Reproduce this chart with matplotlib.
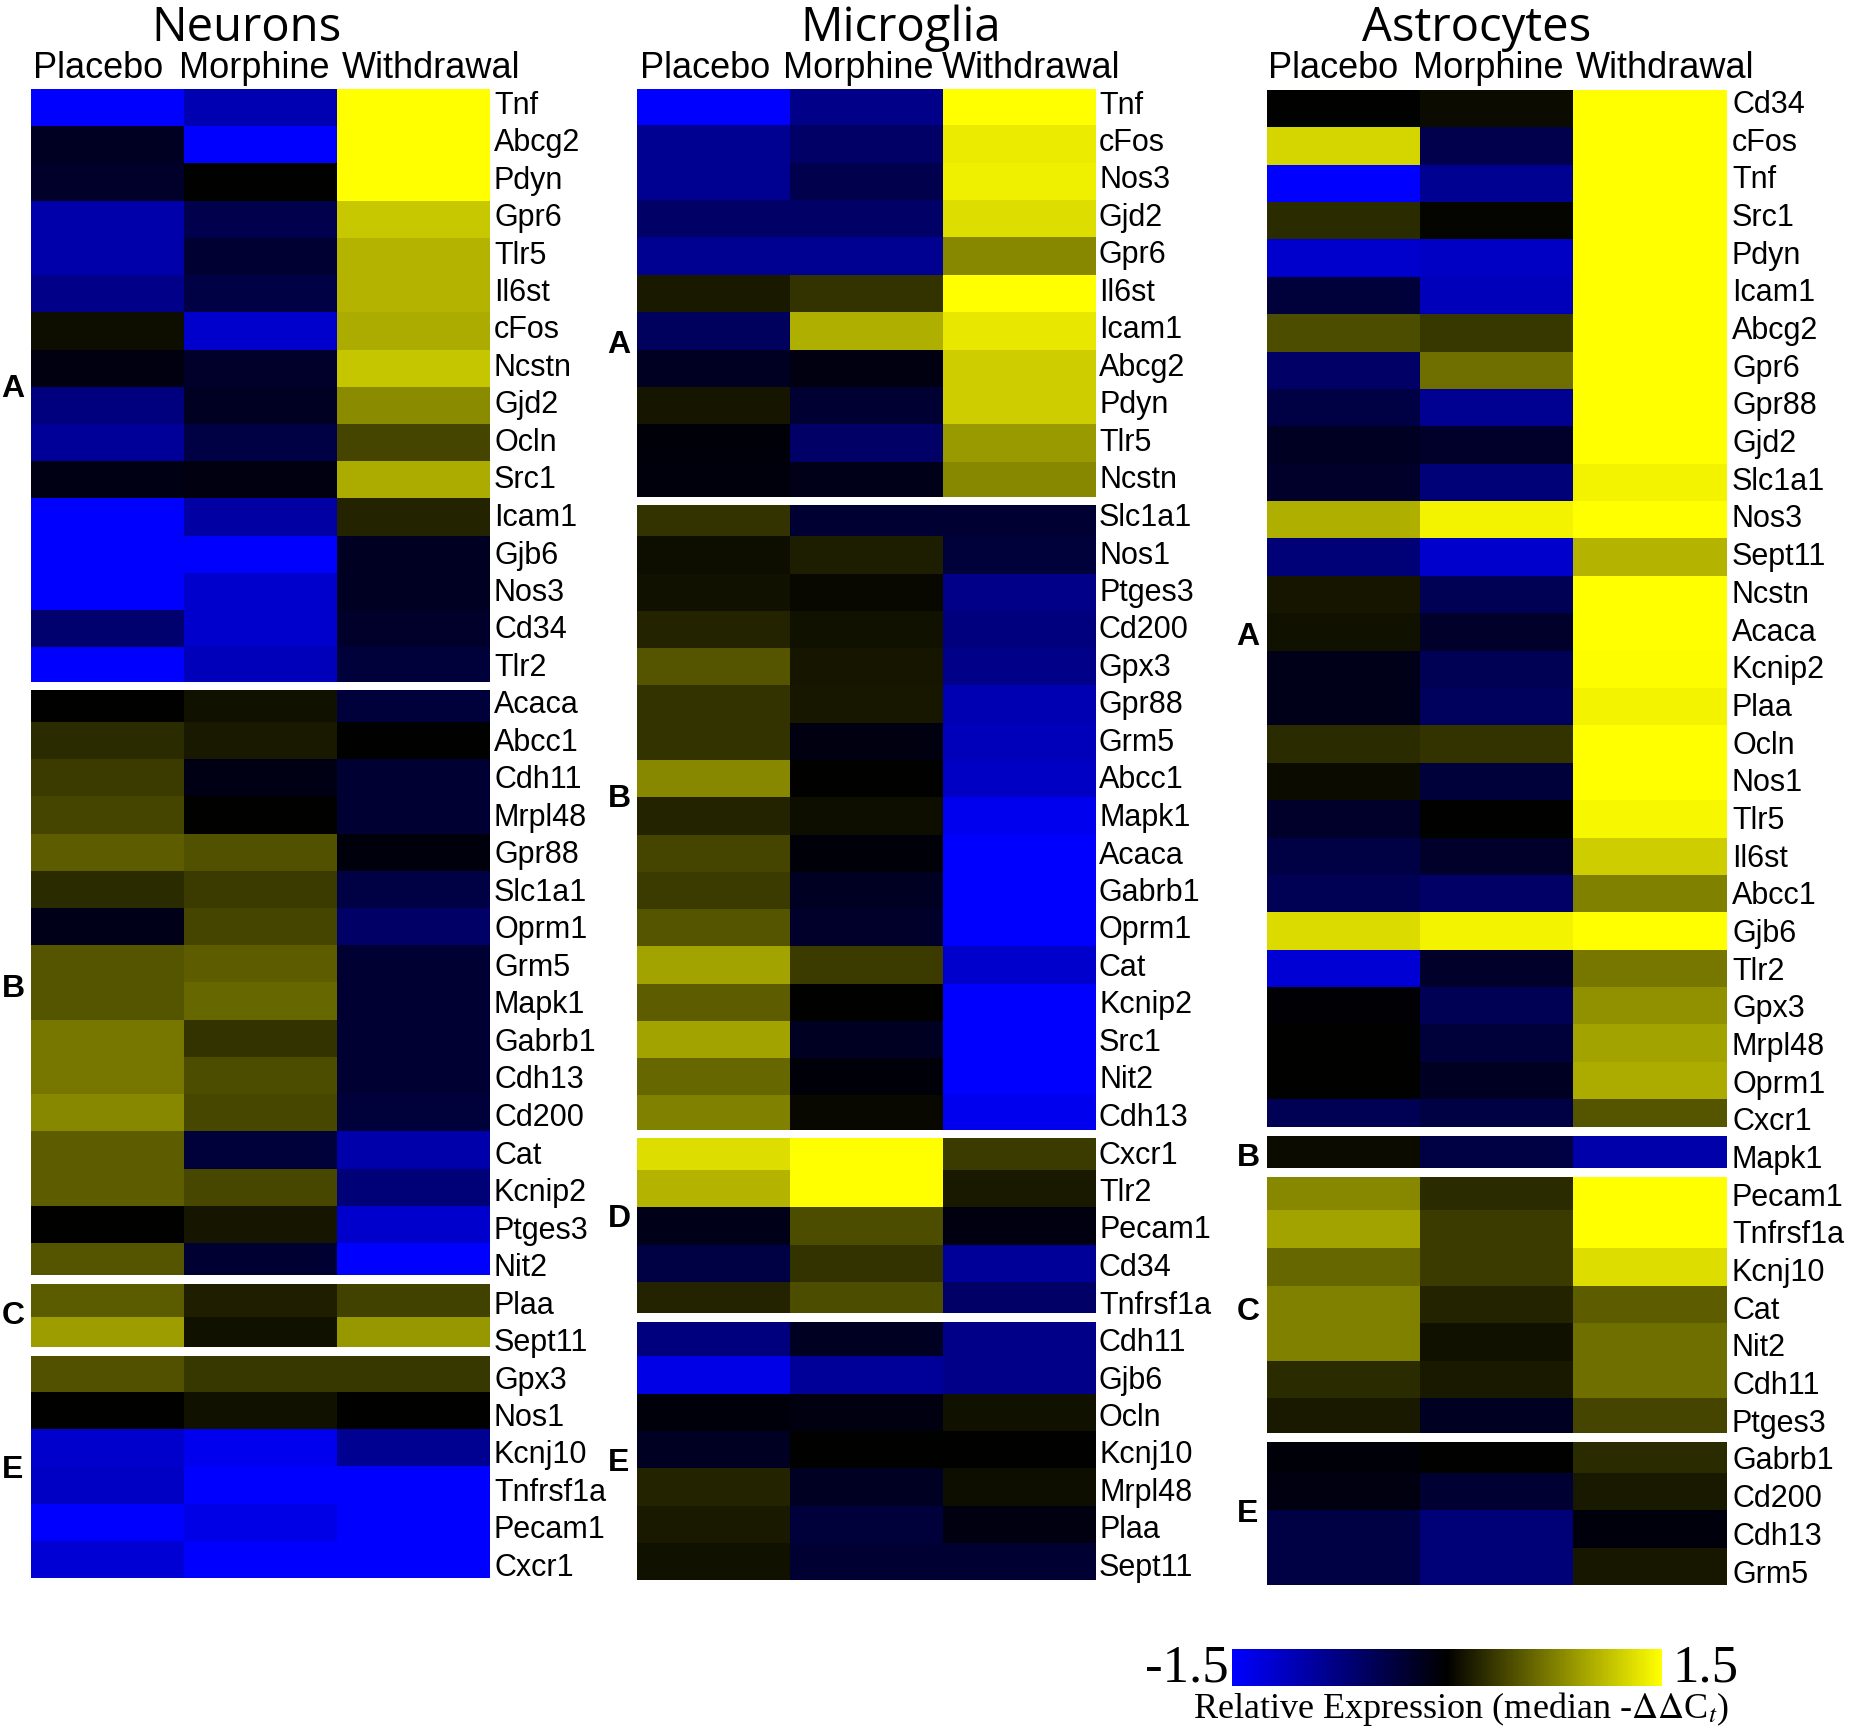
import matplotlib
matplotlib.use("Agg")
import matplotlib.pyplot as plt
from matplotlib.colors import LinearSegmentedColormap, Normalize
from matplotlib.cm import ScalarMappable

W, H = 1850, 1729
SANS = "Liberation Sans"
SERIF = "Liberation Serif"
plt.rcParams["mathtext.fontset"] = "stix"

conditions = ["Placebo", "Morphine", "Withdrawal"]

# values are median -ddCt, one row per gene: placebo, morphine, withdrawal
neurons_a_genes = ["Tnf", "Abcg2", "Pdyn", "Gpr6", "Tlr5", "Il6st", "cFos", "Ncstn", "Gjd2", "Ocln", "Src1",
                   "Icam1", "Gjb6", "Nos3", "Cd34", "Tlr2"]
neurons_a = [[-1.5, -1.05, 1.5], [-0.2, -1.5, 1.5], [-0.25, 0, 1.5], [-1.0, -0.45, 1.18], [-1.0, -0.3, 1.05],
             [-0.8, -0.4, 1.05], [0.08, -1.2, 1.0], [-0.1, -0.25, 1.15], [-0.75, -0.2, 0.82], [-0.9, -0.4, 0.4],
             [-0.12, -0.1, 1.0], [-1.5, -0.95, 0.2], [-1.5, -1.5, -0.2], [-1.5, -1.2, -0.2], [-0.65, -1.2, -0.25],
             [-1.5, -1.1, -0.35]]
neurons_b_genes = ["Acaca", "Abcc1", "Cdh11", "Mrpl48", "Gpr88", "Slc1a1", "Oprm1", "Grm5", "Mapk1", "Gabrb1",
                   "Cdh13", "Cd200", "Cat", "Kcnip2", "Ptges3", "Nit2"]
neurons_b = [[0.0, 0.1, -0.35], [0.25, 0.15, 0.0], [0.35, -0.12, -0.3], [0.4, 0.0, -0.3], [0.55, 0.48, -0.08],
             [0.25, 0.35, -0.4], [-0.15, 0.4, -0.6], [0.5, 0.55, -0.3], [0.5, 0.6, -0.3], [0.7, 0.3, -0.3],
             [0.7, 0.45, -0.3], [0.8, 0.42, -0.35], [0.55, -0.35, -1.0], [0.55, 0.42, -0.7], [0.0, 0.12, -1.2],
             [0.5, -0.3, -1.5]]
neurons_c_genes = ["Plaa", "Sept11"]
neurons_c = [[0.53, 0.18, 0.38], [0.92, 0.1, 0.88]]
neurons_e_genes = ["Gpx3", "Nos1", "Kcnj10", "Tnfrsf1a", "Pecam1", "Cxcr1"]
neurons_e = [[0.48, 0.32, 0.32], [0, 0.1, 0], [-1.2, -1.4, -0.85], [-1.15, -1.5, -1.5], [-1.5, -1.35, -1.5],
             [-1.25, -1.5, -1.5]]

microglia_a_genes = ["Tnf", "cFos", "Nos3", "Gjd2", "Gpr6", "Il6st", "Icam1", "Abcg2", "Pdyn", "Tlr5", "Ncstn"]
microglia_a = [[-1.5, -0.8, 1.5], [-0.85, -0.6, 1.38], [-0.85, -0.45, 1.4], [-0.6, -0.6, 1.3], [-0.85, -0.85, 0.8],
               [0.15, 0.3, 1.5], [-0.55, 1.02, 1.35], [-0.2, -0.1, 1.2], [0.12, -0.3, 1.2], [-0.05, -0.6, 0.9],
               [-0.08, -0.15, 0.8]]
microglia_b_genes = ["Slc1a1", "Nos1", "Ptges3", "Cd200", "Gpx3", "Gpr88", "Grm5", "Abcc1", "Mapk1", "Acaca",
                     "Gabrb1", "Oprm1", "Cat", "Kcnip2", "Src1", "Nit2", "Cdh13"]
microglia_b = [[0.3, -0.3, -0.3], [0.08, 0.17, -0.35], [0.1, 0.05, -0.8], [0.2, 0.1, -0.75], [0.5, 0.12, -0.8],
               [0.3, 0.13, -1.05], [0.3, -0.1, -1.1], [0.8, 0, -1.15], [0.2, 0.08, -1.4], [0.4, -0.05, -1.5],
               [0.35, -0.2, -1.5], [0.5, -0.25, -1.5], [0.95, 0.35, -1.2], [0.55, 0, -1.5], [0.95, -0.2, -1.5],
               [0.6, -0.05, -1.5], [0.75, 0.05, -1.4]]
microglia_d_genes = ["Cxcr1", "Tlr2", "Pecam1", "Cd34", "Tnfrsf1a"]
microglia_d = [[1.3, 1.5, 0.35], [1.05, 1.5, 0.15], [-0.15, 0.45, -0.1], [-0.4, 0.3, -0.9], [0.2, 0.45, -0.6]]
microglia_e_genes = ["Cdh11", "Gjb6", "Ocln", "Kcnj10", "Mrpl48", "Plaa", "Sept11"]
microglia_e = [[-0.75, -0.2, -0.8], [-1.35, -0.9, -0.8], [-0.07, -0.1, 0.1], [-0.2, 0, 0], [0.2, -0.2, 0.08],
               [0.15, -0.35, -0.1], [0.1, -0.3, -0.3]]

astro_a_genes = ["Cd34", "cFos", "Tnf", "Src1", "Pdyn", "Icam1", "Abcg2", "Gpr6", "Gpr88", "Gjd2", "Slc1a1", "Nos3",
                 "Sept11", "Ncstn", "Acaca", "Kcnip2", "Plaa", "Ocln", "Nos1", "Tlr5", "Il6st", "Abcc1", "Gjb6",
                 "Tlr2", "Gpx3", "Mrpl48", "Oprm1", "Cxcr1"]
astro_a = [[0, 0.07, 1.5], [1.25, -0.45, 1.5], [-1.5, -0.85, 1.5], [0.25, 0.03, 1.5], [-1.2, -1.15, 1.5],
           [-0.35, -1.1, 1.5], [0.45, 0.32, 1.5], [-0.6, 0.65, 1.5], [-0.4, -0.85, 1.5], [-0.2, -0.25, 1.5],
           [-0.25, -0.7, 1.42], [1.02, 1.42, 1.5], [-0.7, -1.2, 1.05], [0.12, -0.5, 1.5], [0.1, -0.25, 1.5],
           [-0.15, -0.5, 1.48], [-0.15, -0.55, 1.42], [0.25, 0.3, 1.5], [0.06, -0.35, 1.5], [-0.25, 0, 1.45],
           [-0.4, -0.25, 1.2], [-0.5, -0.6, 0.75], [1.28, 1.42, 1.5], [-1.25, -0.25, 0.7], [-0.03, -0.5, 0.85],
           [0, -0.35, 0.95], [0, -0.2, 1.0], [-0.5, -0.4, 0.5]]
astro_b_genes = ["Mapk1"]
astro_b = [[0.07, -0.4, -1.0]]
astro_c_genes = ["Pecam1", "Tnfrsf1a", "Kcnj10", "Cat", "Nit2", "Cdh11", "Ptges3"]
astro_c = [[0.8, 0.25, 1.5], [0.95, 0.35, 1.5], [0.6, 0.35, 1.3], [0.75, 0.2, 0.55], [0.75, 0.1, 0.65],
           [0.25, 0.15, 0.65], [0.15, -0.2, 0.4]]
astro_e_genes = ["Gabrb1", "Cd200", "Cdh13", "Grm5"]
astro_e = [[-0.05, 0, 0.25], [-0.1, -0.3, 0.15], [-0.4, -0.7, -0.08], [-0.4, -0.7, 0.13]]

bwy = LinearSegmentedColormap.from_list("bwy", ["#0000ff", "#000000", "#ffff00"])
norm = Normalize(-1.5, 1.5)

fig = plt.figure(figsize=(W / 100, H / 100), dpi=100, facecolor="white")


def px_axes(x0, y0, x1, y1):
    # pixel box of the reference, y going down
    ax = fig.add_axes([x0 / W, 1 - y1 / H, (x1 - x0) / W, (y1 - y0) / H])
    ax.set_axis_off()
    return ax


def px_text(x, y, s, **kw):
    kw.setdefault("family", SANS)
    kw.setdefault("va", "center")
    kw.setdefault("color", "black")
    return fig.text(x / W, 1 - y / H, s, **kw)


def draw_panel(title, title_x, x0, x1, head_x, letter_x, label_x, groups, grid, labels):
    grid_top, grid_step = grid
    label_top, label_step = labels
    px_text(title_x, 28, title, family="Open Sans", fontsize=34, ha="center")
    for name, hx in zip(conditions, head_x):
        px_text(hx, 69, name, fontsize=26)

    row = 0
    for letter, letter_y, y0, y1, genes, values in groups:
        ax = px_axes(x0, y0, x1, y1)
        ax.imshow(values, cmap=bwy, norm=norm, aspect="auto", interpolation="nearest")
        # rows sit on one even grid, the white gaps between groups cut into them
        top = (y0 - grid_top) / grid_step - row - 0.5
        bottom = (y1 - grid_top) / grid_step - row - 0.5
        ax.set_ylim(min(bottom, len(genes) - 0.5), max(top, -0.5))
        px_text(letter_x, letter_y, letter, fontsize=23, fontweight="bold", ha="center")
        for gene in genes:
            px_text(label_x, label_top + row * label_step, gene, fontsize=22)
            row += 1


draw_panel("Neurons", 247, 31, 490, [33, 179, 342], 13, 494, [
    ("A", 389, 89, 682, neurons_a_genes, neurons_a),
    ("B", 989, 690, 1275, neurons_b_genes, neurons_b),
    ("C", 1316, 1284, 1347, neurons_c_genes, neurons_c),
    ("E", 1470, 1356, 1578, neurons_e_genes, neurons_e),
], (89, 37.23), (105.5, 37.5))

draw_panel("Microglia", 901, 637, 1096, [640, 783, 942], 619, 1099, [
    ("A", 345, 89, 497, microglia_a_genes, microglia_a),
    ("B", 799, 505, 1130, microglia_b_genes, microglia_b),
    ("D", 1219, 1138, 1313, microglia_d_genes, microglia_d),
    ("E", 1463, 1322, 1580, microglia_e_genes, microglia_e),
], (89, 37.28), (105.5, 37.5))

draw_panel("Astrocytes", 1477, 1267, 1727, [1268, 1413, 1576], 1248, 1732, [
    ("A", 637, 90, 1127, astro_a_genes, astro_a),
    ("B", 1158, 1136, 1168, astro_b_genes, astro_b),
    ("C", 1312, 1177, 1433, astro_c_genes, astro_c),
    ("E", 1514, 1442, 1585, astro_e_genes, astro_e),
], (90, 37.38), (105, 37.68))

cax = fig.add_axes([1232 / W, 1 - 1686 / H, 430 / W, 37 / H])
cb = fig.colorbar(ScalarMappable(norm=norm, cmap=bwy), cax=cax, orientation="horizontal")
cb.set_ticks([])
cb.outline.set_visible(False)

px_text(1229, 1668, "-1.5", family=SERIF, fontsize=38, ha="right")
px_text(1672, 1668, "1.5", family=SERIF, fontsize=38, ha="left")
px_text(1461, 1709, r"Relative Expression (median -$\Delta\Delta$C$_t$)", family=SERIF, fontsize=26, ha="center")

fig.savefig("out.png", dpi=100, facecolor="white")
